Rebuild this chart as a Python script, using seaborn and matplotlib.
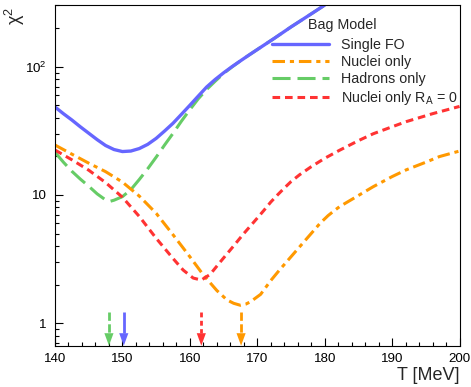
import numpy as np
import pandas as pd
import matplotlib
matplotlib.use("Agg")
import matplotlib.pyplot as plt
import seaborn as sns
from matplotlib.ticker import MultipleLocator, LogLocator, NullFormatter

# ---------------- data ----------------
T_single = [140, 141.25, 142.5, 143.75, 145, 146.25, 147.5, 148.75, 150, 151.25,
            152.5, 153.75, 155, 156.25, 157.5, 158.75, 160, 161.25, 162.5, 163.75,
            165, 166.25, 167.5, 168.75, 170, 172.5, 175, 177.5, 180]
chi2_single = [48.5, 43, 38.4, 34, 30.3, 27, 24.3, 22.6, 21.8, 22.0,
               23.0, 24.8, 27.6, 31.5, 36.2, 42.5, 50, 59, 69.5, 79.4,
               89.5, 100, 111, 123, 136, 166, 204, 248, 302]

T_hadrons = [140, 141.25, 142.5, 143.75, 145, 146.25, 147.5, 148.1, 148.75, 150,
             151.25, 152.5, 153.75, 155, 156.25, 157.5, 158.75, 160, 161.25, 162.5,
             163.75, 165, 166.25, 167.5, 168.75, 170, 172.5, 175, 177.5, 180]
chi2_hadrons = [21.5, 18.0, 15.3, 13.3, 11.7, 10.2, 9.15, 8.9, 9.1, 9.7,
                11.0, 13.2, 16.0, 19.7, 24.5, 30.2, 37.6, 46.2, 56.2, 66.5,
                77.0, 88.5, 99.5, 111, 123, 136, 166, 204, 248, 302]

T_nuclei = [140, 142.5, 145, 147.5, 150, 152.5, 155, 157.5, 160, 162, 164,
            165.5, 166.5, 167.5, 168.3, 169, 170.5, 172, 173.3, 176.3, 179.3,
            180.5, 181.5, 182.2, 185, 187.2, 190, 192.1, 195, 197, 200]
chi2_nuclei = [24.5, 20.8, 17.7, 15.2, 12.6, 9.8, 7.2, 4.9, 3.3, 2.38, 1.8,
               1.52, 1.43, 1.38, 1.41, 1.47, 1.68, 2.15, 2.6, 3.95, 6.0,
               6.9, 7.6, 8.1, 9.9, 11.6, 13.9, 15.7, 18.0, 19.9, 22.0]

T_nucRA = [140, 142.5, 145, 147.5, 150, 152.5, 155, 157.5, 159, 160.5, 161.7,
           163, 164.5, 166.4, 168, 170, 171, 172, 173, 174, 175, 176.3, 178,
           180, 182.2, 185, 187.2, 190, 192.1, 196, 200]
chi2_nucRA = [22.4, 18.8, 15.6, 12.5, 9.6, 6.8, 4.6, 3.2, 2.6, 2.25, 2.17,
              2.4, 3.0, 3.95, 5.0, 6.6, 7.6, 8.8, 10.0, 11.3, 12.7, 14.4, 16.6,
              19.3, 22.3, 26.5, 30.0, 34, 37.3, 43, 49]

labels = ["Single FO", "Nuclei only", "Hadrons only", r"Nuclei only R$_{\mathregular{A}}$ = 0"]
arrow_T = [148.0, 150.2, 161.7, 167.6]          # minima marked by arrows
arrow_series = ["Hadrons only", "Single FO", "Nuclei only RA", "Nuclei only"]

x_ticks = [140, 150, 160, 170, 180, 190, 200]
y_ticks = [1, 10, 100]
y_ticklabels = ["1", "10", r"10$^{\mathregular{2}}$"]

# ---------------- style ----------------
sns.set_style("white")
plt.rcParams["font.family"] = ["Liberation Sans", "DejaVu Sans"]
plt.rcParams["mathtext.fontset"] = "custom"
plt.rcParams["mathtext.rm"] = "Liberation Sans"
plt.rcParams["mathtext.it"] = "Liberation Sans:italic"
plt.rcParams["mathtext.default"] = "regular"
plt.rcParams["lines.scale_dashes"] = False

c_blue = "#6666FF"
c_orange = "#FF9900"
c_green = "#66CC66"
c_red = "#FF3333"

ls_solid = "-"
ls_orange = (0, (9, 3.5, 3, 3.5))
ls_green = (0, (13, 5))
ls_red = (0, (5.5, 3.5))

fig = plt.figure(figsize=(4.71, 3.87), dpi=100)
ax = fig.add_axes([0.1168, 0.1067, 0.8588, 0.8796])

series = [
    (T_single, chi2_single, labels[0], c_blue, ls_solid, 2.4),
    (T_nuclei, chi2_nuclei, labels[1], c_orange, ls_orange, 2.2),
    (T_hadrons, chi2_hadrons, labels[2], c_green, ls_green, 2.2),
    (T_nucRA, chi2_nucRA, labels[3], c_red, ls_red, 2.2),
]
draw_order = [2, 0, 1, 3]
for i in draw_order:
    T, c2, lab, col, ls, lw = series[i]
    df = pd.DataFrame({"T": T, "chi2": c2})
    sns.lineplot(data=df, x="T", y="chi2", ax=ax, color=col, linestyle=ls,
                 linewidth=lw, label=lab, legend=False, sort=False)

ax.set_yscale("log")
ax.set_xlim(140, 200)
ax.set_ylim(0.668, 301)

# arrows
arrow_cols = {"Hadrons only": (c_green, (0, (6, 2.5))), "Single FO": (c_blue, "-"),
              "Nuclei only RA": (c_red, (0, (3.5, 2.5))), "Nuclei only": (c_orange, (0, (6, 2.5)))}
y_top, y_head = 1.23, 0.84
for t, s in zip(arrow_T, arrow_series):
    col, ls = arrow_cols[s]
    ax.plot([t, t], [y_top, y_head], color=col, lw=2.0, linestyle=ls, solid_capstyle="butt")
    ax.annotate("", xy=(t, 0.668), xytext=(t, y_head),
                arrowprops=dict(arrowstyle="-|>,head_length=0.9,head_width=0.33",
                                color=col, lw=0, shrinkA=0, shrinkB=0))

# ticks
ax.xaxis.set_major_locator(MultipleLocator(10))
ax.xaxis.set_minor_locator(MultipleLocator(2))
ax.set_xticks(x_ticks)
ax.set_yticks(y_ticks, y_ticklabels)
ax.yaxis.set_minor_locator(LogLocator(base=10, subs=np.arange(2, 10)))
ax.yaxis.set_minor_formatter(NullFormatter())
ax.tick_params(which="both", direction="in", bottom=True, left=True, top=False,
               right=False, colors="black", labelsize=9.6)
ax.tick_params(which="major", length=5.5, width=0.8)
ax.tick_params(which="minor", length=3, width=0.8)
ax.tick_params(axis="x", pad=5)
ax.tick_params(axis="y", pad=6)
for sp in ax.spines.values():
    sp.set_color("black")
    sp.set_linewidth(0.8)

ax.set_xlabel("T [MeV]", loc="right", fontsize=13, labelpad=2)
ax.set_ylabel(r"$\chi^{\mathregular{2}}$", loc="top", fontsize=13)
ax.yaxis.set_label_coords(-0.07, 0.995)

# legend
handles, labs = ax.get_legend_handles_labels()
order = [labs.index(l) for l in labels]
leg = ax.legend([handles[i] for i in order], [labs[i] for i in order],
                loc="upper left", bbox_to_anchor=(0.5365, 0.905), frameon=False,
                fontsize=10.3, handlelength=4.0, handletextpad=0.85,
                labelspacing=0.22, borderpad=0, borderaxespad=0)
ax.text((308 - 55) / 404.5, (345.7 - 25) / 340.4, "Bag Model", transform=ax.transAxes,
        fontsize=10.3, ha="left", va="center")

ax.grid(False)
fig.savefig("out.png", dpi=100)
